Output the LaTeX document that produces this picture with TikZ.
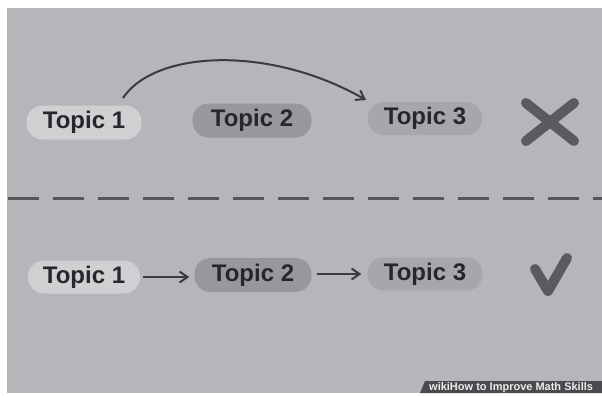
\documentclass[tikz,border=0pt]{standalone}
\usepackage{fontspec}
\setmainfont{Liberation Sans}
\usetikzlibrary{arrows.meta,calc}
\definecolor{bg}{HTML}{B4B6B9}
\definecolor{pA}{HTML}{CFD0D2}
\definecolor{pB}{HTML}{97989B}
\definecolor{pC}{HTML}{A6A7AA}
\definecolor{txt}{HTML}{26272B}
\definecolor{mark}{HTML}{5A5B5F}
\definecolor{lineC}{HTML}{3A3B3F}
\definecolor{dashC}{HTML}{55565A}
\definecolor{wm}{HTML}{4A4B4E}
\begin{document}
\begin{tikzpicture}[x=1pt,y=-1pt,
  pill/.style={rounded corners=16pt, inner sep=0pt, minimum height=34pt,
    font=\fontsize{24}{28}\selectfont\bfseries, text=txt},
  arr/.style={draw=lineC, line width=2pt, -{Straight Barb[length=8pt,width=11pt,line width=2pt]}},
  markstroke/.style={draw=mark, line width=10pt, line cap=round, line join=round}]
\useasboundingbox (0,0) rectangle (602,396);
\fill[white] (0,0) rectangle (602,396);
\fill[bg] (7,8) rectangle (602,393);
% top row
\node[pill, fill=pA, minimum width=115pt] (t1) at (84,122.5) {Topic 1};
\node[pill, fill=pB, minimum width=119pt] (t2) at (252,120.5) {Topic 2};
\node[pill, fill=pC, minimum width=114pt, minimum height=33pt] (t3) at (425,118.5) {Topic 3};
\coordinate (a1) at (123,98);
\coordinate (a2) at (366,100);
\draw[arr] (a1) .. controls (155,50) and (270,45) .. (a2);
\draw[markstroke] (526,103) -- (574,141);
\draw[markstroke] (574,103) -- (526,141);
% divider
\draw[dashC, line width=3pt, dash pattern=on 31pt off 14pt] (8,198) -- (602,198);
% bottom row
\node[pill, fill=pA, minimum width=112pt, minimum height=33pt] (b1) at (84,277) {Topic 1};
\node[pill, fill=pB, minimum width=117pt] (b2) at (253,275) {Topic 2};
\node[pill, fill=pC, minimum width=115pt, minimum height=33pt] (b3) at (425,274) {Topic 3};
\coordinate (s1) at (b1.east);
\coordinate (e1) at (s1 -| b2.west);
\draw[arr, shorten <=3pt, shorten >=5pt] (s1) -- (e1);
\coordinate (s2) at (b3.west -| b2.east);
\coordinate (e2) at (b3.west);
\draw[arr, shorten <=5pt, shorten >=6pt] (s2) -- (e2);
\draw[markstroke] (535,269) -- (548,291) -- (567,258);
% watermark
\begin{scope}
\clip (0,0) rectangle (602,396);
\fill[wm] (425,381) -- (602,381) -- (602,393) -- (420,393) -- cycle;
\node[anchor=west, inner sep=0pt, text=white!85!gray, font=\fontsize{11}{12}\selectfont\bfseries] (wmt) at (429,387.5) {wikiHow to Improve Math Skills};
\end{scope}
\end{tikzpicture}
\end{document}
